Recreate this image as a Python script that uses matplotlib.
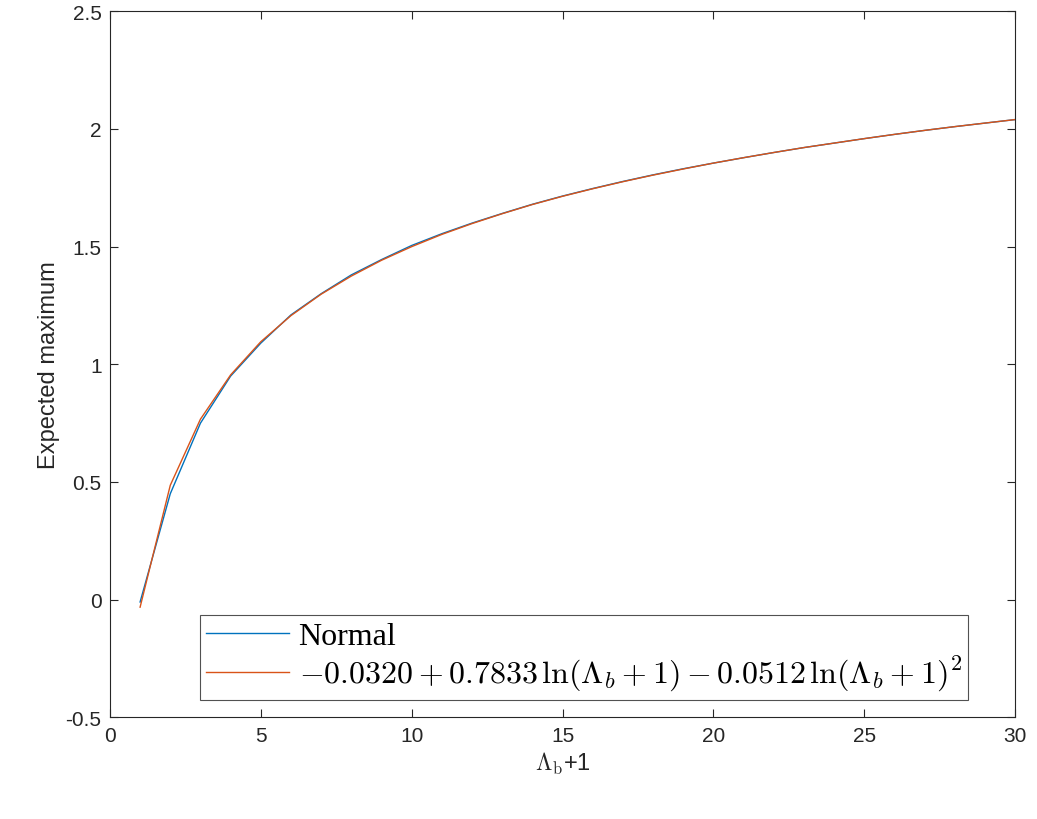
import matplotlib
matplotlib.use("Agg")
import matplotlib.pyplot as plt

x = list(range(1, 31))
normal = [-0.01, 0.45, 0.75, 0.95, 1.09, 1.21, 1.30, 1.38, 1.445, 1.505,
          1.555, 1.60, 1.641, 1.680, 1.715, 1.747, 1.777, 1.805, 1.831, 1.855,
          1.878, 1.900, 1.921, 1.940, 1.959, 1.977, 1.994, 2.010, 2.025, 2.040]
fit = [-0.032, 0.486, 0.767, 0.955, 1.096, 1.207, 1.298, 1.375, 1.442, 1.500,
       1.552, 1.598, 1.640, 1.679, 1.714, 1.746, 1.776, 1.804, 1.830, 1.855,
       1.878, 1.900, 1.921, 1.940, 1.959, 1.977, 1.994, 2.010, 2.025, 2.040]

plt.rcParams['mathtext.fontset'] = 'cm'
plt.rcParams['font.family'] = ['Liberation Sans', 'DejaVu Sans']
fig = plt.figure(figsize=(10.37, 8.2), dpi=100)
ax = fig.add_axes([0.106, 0.124, 0.873, 0.861])
ax.plot(x, normal, color='#0072BD', lw=1, label='Normal')
ax.plot(x, fit, color='#D95319', lw=1,
        label=r'$-0.0320+0.7833\,\ln(\Lambda_b+1)-0.0512\,\ln(\Lambda_b+1)^2$')
ax.set_xlim(0, 30)
ax.set_ylim(-0.5, 2.5)
ax.set_xticks([0, 5, 10, 15, 20, 25, 30])
ax.set_yticks([-0.5, 0, 0.5, 1, 1.5, 2, 2.5])
ax.set_yticklabels(['-0.5', '0', '0.5', '1', '1.5', '2', '2.5'])
ax.tick_params(direction='in', top=True, right=True, labelsize=15, colors='#262626', length=6, pad=6)
for s in ax.spines.values():
    s.set_color('#262626'); s.set_linewidth(0.8)
ax.set_xlabel(r'$\Lambda_{\rm b}$+1', fontsize=17, color='#262626')
ax.set_ylabel('Expected maximum', fontsize=17, color='#262626')
leg = ax.legend(loc='lower left', bbox_to_anchor=(0.099, 0.025),
                prop={'family': 'Liberation Serif', 'size': 23},
                fancybox=False, edgecolor='#262626', handlelength=2.6,
                handletextpad=0.3, borderpad=0.2, labelspacing=0.1, borderaxespad=0)
leg.get_frame().set_linewidth(0.8)
fig.savefig('out.png', dpi=100)
